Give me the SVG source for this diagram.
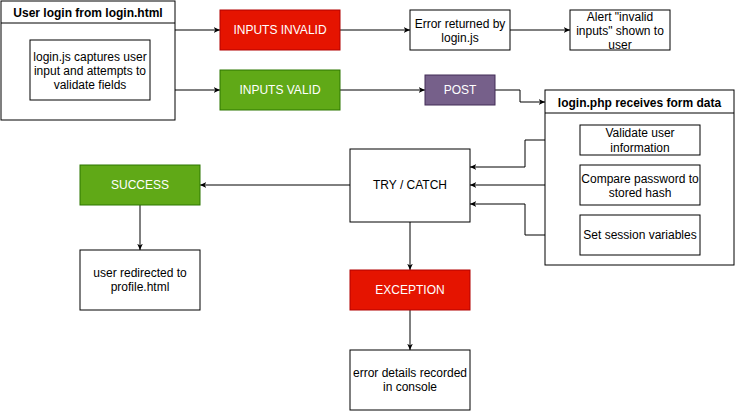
<svg xmlns="http://www.w3.org/2000/svg" width="736" height="411" viewBox="0 0 736 411">
<style>
  .box { fill: #ffffff; stroke: #000000; stroke-width: 1; }
  .red { fill: #e51400; stroke: #b20000; stroke-width: 1; }
  .green { fill: #60a917; stroke: #2d7600; stroke-width: 1; }
  .purple { fill: #76608a; stroke: #432d57; stroke-width: 1; }
  text { font-family: "Liberation Sans", Arial, Helvetica, sans-serif; font-size: 12px; text-anchor: middle; fill: #000000; }
  .w { fill: #ffffff; }
  .b { font-weight: bold; }
  .edge { fill: none; stroke: #000000; stroke-width: 1; marker-end: url(#arr); }
</style>
<defs>
  <marker id="arr" viewBox="0 0 10 10" refX="9" refY="5" markerWidth="7" markerHeight="7" markerUnits="userSpaceOnUse" orient="auto">
    <path d="M0,1 L9,5 L0,9 L2.5,5 Z" fill="#000000"/>
  </marker>
</defs>
<rect width="736" height="411" fill="#ffffff"/>

<g id="connectors">
  <path class="edge" d="M175,30 L220,30"/>
  <path class="edge" d="M175,90 L220,90"/>
  <path class="edge" d="M340,30 L410,30"/>
  <path class="edge" d="M510,30 L570,30"/>
  <path class="edge" d="M340,90 L425,90"/>
  <path class="edge" d="M495,90 L520,90 L520,102 L545,102"/>
  <path class="edge" d="M580,140 L525,140 L525,167 L470,167"/>
  <path class="edge" d="M580,185 L470,185"/>
  <path class="edge" d="M580,235 L525,235 L525,204 L470,204"/>
  <path class="edge" d="M350,185 L200,185"/>
  <path class="edge" d="M140,205 L140,250"/>
  <path class="edge" d="M410,222 L410,270"/>
  <path class="edge" d="M410,310 L410,350"/>
</g>

<g id="login-html">
  <rect class="box" x="1" y="1" width="174" height="119"/>
  <line x1="1" y1="23" x2="175" y2="23" stroke="#000000"/>
  <text class="b" x="88" y="17">User login from login.html</text>
</g>
<g id="login-js">
  <rect class="box" x="30" y="40" width="120" height="60"/>
  <text x="90" y="61">login.js captures user</text>
  <text x="90" y="75">input and attempts to</text>
  <text x="90" y="89">validate fields</text>
</g>
<g id="inputs-invalid">
  <rect class="red" x="220" y="10" width="120" height="40"/>
  <text class="w" x="280" y="34">INPUTS INVALID</text>
</g>
<g id="inputs-valid">
  <rect class="green" x="220" y="70" width="120" height="40"/>
  <text class="w" x="280" y="94">INPUTS VALID</text>
</g>
<g id="error-returned">
  <rect class="box" x="410" y="10" width="100" height="40"/>
  <text x="460" y="28">Error returned by</text>
  <text x="460" y="42">login.js</text>
</g>
<g id="alert">
  <rect class="box" x="570" y="10" width="100" height="40"/>
  <text x="620" y="21">Alert "invalid</text>
  <text x="620" y="35">inputs" shown to</text>
  <text x="620" y="49">user</text>
</g>
<g id="post">
  <rect class="purple" x="425" y="75" width="70" height="30"/>
  <text class="w" x="460" y="94">POST</text>
</g>
<g id="login-php">
  <rect class="box" x="545" y="90" width="189" height="175"/>
  <line x1="545" y1="113" x2="734" y2="113" stroke="#000000"/>
  <text class="b" x="639.5" y="107">login.php receives form data</text>
</g>
<g id="validate">
  <rect class="box" x="580" y="125" width="120" height="30"/>
  <text x="640" y="137">Validate user</text>
  <text x="640" y="152">information</text>
</g>
<g id="compare">
  <rect class="box" x="580" y="165" width="120" height="40"/>
  <text x="640" y="183">Compare password to</text>
  <text x="640" y="197">stored hash</text>
</g>
<g id="session">
  <rect class="box" x="580" y="215" width="120" height="40"/>
  <text x="640" y="239">Set session variables</text>
</g>
<g id="try-catch">
  <rect class="box" x="350" y="149" width="120" height="73"/>
  <text x="410" y="189">TRY / CATCH</text>
</g>
<g id="success">
  <rect class="green" x="80" y="165" width="120" height="40"/>
  <text class="w" x="140" y="189">SUCCESS</text>
</g>
<g id="redirected">
  <rect class="box" x="80" y="250" width="120" height="60"/>
  <text x="140" y="277">user redirected to</text>
  <text x="140" y="291">profile.html</text>
</g>
<g id="exception">
  <rect class="red" x="350" y="270" width="120" height="40"/>
  <text class="w" x="410" y="294">EXCEPTION</text>
</g>
<g id="error-details">
  <rect class="box" x="350" y="350" width="120" height="60"/>
  <text x="410" y="377">error details recorded</text>
  <text x="410" y="391">in console</text>
</g>
</svg>
